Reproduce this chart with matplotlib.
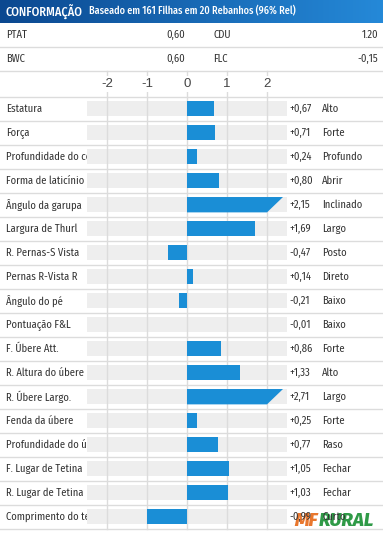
import matplotlib.pyplot as plt
from matplotlib.colors import LinearSegmentedColormap
import numpy as np

plt.rcParams['font.family'] = ['Fira Sans Condensed', 'DejaVu Sans']

# data
traits = ["Estatura", "Força", "Profundidade do corpo", "Forma de laticínio",
          "Ângulo da garupa", "Largura de Thurl", "R. Pernas-S Vista",
          "Pernas R-Vista R", "Ângulo do pé", "Pontuação F&L", "F. Úbere Att.",
          "R. Altura do úbere", "R. Úbere Largo.", "Fenda da úbere",
          "Profundidade do úbere", "F. Lugar de Tetina", "R. Lugar de Tetina",
          "Comprimento do teto"]
values = [0.67, 0.71, 0.24, 0.80, 2.15, 1.69, -0.47, 0.14, -0.21, -0.01,
          0.86, 1.33, 2.71, 0.25, 0.77, 1.05, 1.03, -0.99]
descr = ["Alto", "Forte", "Profundo", "Abrir", "Inclinado", "Largo", "Posto",
         "Direto", "Baixo", "Baixo", "Forte", "Alto", "Largo", "Forte", "Raso",
         "Fechar", "Fechar", "Curto"]
summary_left = [("PTAT", "0,60"), ("BWC", "0,60")]
summary_right = [("CDU", "1.20"), ("FLC", "-0,15")]
ticks = [-2, -1, 0, 1, 2]

W, H = 383, 539
BLUE = "#1a8ed6"
GRAY = "#eeeeee"
LINE = "#dcdcdc"
TXT = "#333333"
FS = 7.6

fig = plt.figure(figsize=(W / 100, H / 100), dpi=100)

# background axes in pixel units
bg = fig.add_axes([0, 0, 1, 1])
bg.set_xlim(0, W)
bg.set_ylim(H, 0)
bg.axis("off")

# header band with gradient
hh = 23
hdr = fig.add_axes([0, 1 - hh / H, 1, hh / H])
cmap = LinearSegmentedColormap.from_list("hdr", ["#0b4890", "#2589d8"])
hdr.imshow(np.linspace(0, 1, 256)[None, :], aspect="auto", cmap=cmap,
           extent=[0, W, 0, 1])
hdr.set_xlim(0, W)
hdr.set_ylim(0, 1)
hdr.axis("off")
hdr.text(6, 0.5, "CONFORMAÇÃO", color="white", fontsize=8.8,
         fontweight="medium", va="center", ha="left")
hdr.text(89, 0.5, "Baseado em 161 Filhas em 20 Rebanhos (96% Rel)",
         color="white", fontsize=7.3, fontweight="medium", va="center", ha="left")

# summary table
for i, ((ln, lv), (rn, rv)) in enumerate(zip(summary_left, summary_right)):
    yc = 35 + 24 * i
    bg.text(6, yc, ln, fontsize=FS, color=TXT, va="center")
    bg.text(185, yc, lv, fontsize=FS, color=TXT, va="center", ha="right")
    bg.text(213, yc, rn, fontsize=FS, color=TXT, va="center")
    bg.text(378, yc, rv, fontsize=FS, color=TXT, va="center", ha="right")
for y in (47, 71):
    bg.plot([0, W], [y, y], color=LINE, lw=1)

# bar axes: -2.5..2.5 over pixels 87..287, rows from 96.7 to 528.7
n = len(traits)
top, bottom = 96.7, 96.7 + 24 * n
ax = fig.add_axes([87 / W, 1 - bottom / H, 200 / W, (bottom - top) / H])
ax.set_xlim(-2.5, 2.5)
ax.set_ylim(n - 0.5, -0.5)
ax.axis("off")

rows = np.arange(n)
bh = 0.64
ax.barh(rows, [5] * n, left=-2.5, height=bh, color=GRAY, zorder=1)

# vertical grid lines, running up into the tick row
ext = (top - 71) / 24
for t in ticks:
    ax.plot([t, t], [-0.5 - ext, n - 0.5], color=LINE, lw=1, zorder=2,
            clip_on=False)

# bars, values above 2 drawn with a slanted end
cap, slant = 2.0, 0.4
for r, v in zip(rows, values):
    if v > cap:
        ax.fill([0, cap, cap + slant, 0],
                [r + bh / 2, r + bh / 2, r - bh / 2, r - bh / 2],
                color=BLUE, lw=0, zorder=3)
    else:
        ax.barh(r, v, height=bh, color=BLUE, zorder=3)

# row separators across full width
ytr = ax.get_yaxis_transform()
for b in np.arange(n + 1) - 0.5:
    ax.plot([-87 / 200, (W - 87) / 200], [b, b], color=LINE, lw=1,
            transform=ytr, clip_on=False, zorder=2)

# tick labels
for t in ticks:
    ax.text(t, -0.5 - (top - 84) / 24, str(t), fontsize=9.5, color="#444444",
            ha="center", va="center", family=["Liberation Sans", "DejaVu Sans"],
            bbox=dict(facecolor="white", edgecolor="none", pad=1.5), zorder=4)

# values and descriptors
for r, v, d in zip(rows, values, descr):
    s = ("+" if v >= 0 else "-") + f"{abs(v):.2f}".replace(".", ",")
    ax.text((289 - 87) / 200, r, s, fontsize=FS, color=TXT, va="center",
            transform=ytr)
    ax.text((322 - 87) / 200, r, d, fontsize=FS, color=TXT, va="center",
            transform=ytr)

# row labels clipped at the start of the gray band
lab = fig.add_axes([0, 1 - bottom / H, 87 / W, (bottom - top) / H])
lab.set_xlim(0, 87)
lab.set_ylim(n - 0.5, -0.5)
lab.axis("off")
for r, t in zip(rows, traits):
    lab.text(6, r, t, fontsize=FS, color=TXT, va="center", clip_on=True)

# watermark
bg.text(294, 521, "MF", fontsize=13.5, color="#e8772e", fontweight="heavy",
        style="italic", va="center", family=["Fira Sans", "DejaVu Sans"])
bg.text(319, 521, "RURAL", fontsize=13.5, color="#2f9a47", fontweight="heavy",
        style="italic", va="center", family=["Fira Sans", "DejaVu Sans"])

fig.savefig("out.png", dpi=100)
